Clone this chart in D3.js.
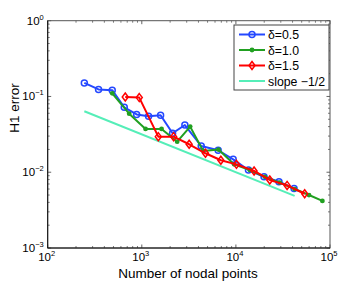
<!DOCTYPE html>
<html lang="en">
<head>
    <meta charset="UTF-8">
    <title>H1 error</title>
    <script src="https://cdnjs.cloudflare.com/ajax/libs/d3/7.8.5/d3.min.js"></script>
    <style>
    html, body {
        margin: 0;
        background: white;
    }
    text {
        font-family: "Liberation Sans", Arial, sans-serif;
        fill: #000;
    }
    </style>
</head>
<body>
    <div id="chart"></div>
    <script>
    // data
    var seriesNames = ['δ=0.5', 'δ=1.0', 'δ=1.5', 'slope −1/2'];

    var nodes05 = [245, 347, 485, 651, 881, 1180, 1584, 2124, 2868, 4280, 6480, 9350, 13600, 19900, 28700, 41500];
    var err05 = [0.151, 0.124, 0.121, 0.072, 0.058, 0.0547, 0.0565, 0.0327, 0.042, 0.0222, 0.0195, 0.0148, 0.0107, 0.0087, 0.0075, 0.0061];

    var nodes10 = [485, 734, 1096, 1622, 2377, 3266, 4490, 6530, 9570, 14060, 20300, 29200, 42100, 59800, 83000];
    var err10 = [0.110, 0.0593, 0.0373, 0.0373, 0.0253, 0.040, 0.0191, 0.0199, 0.0127, 0.0107, 0.0087, 0.0073, 0.0060, 0.0050, 0.00418];

    var nodes15 = [667, 940, 1497, 2178, 3185, 4750, 6920, 10140, 15600, 22900, 35000, 53800];
    var err15 = [0.0985, 0.0966, 0.0295, 0.0295, 0.0234, 0.0178, 0.0144, 0.0127, 0.0104, 0.0079, 0.0067, 0.0052];

    var slopeNodes = [245, 42100];
    var slopeErr = [0.0639, 0.00487];

    var xTickExp = [2, 3, 4, 5];
    var yTickExp = [0, -1, -2, -3];

    var width = 364;
    var height = 283;
    var margin = { top: 20.7, bottom: 35, left: 47.7, right: 34 };
    var w = width - margin.left - margin.right;
    var h = height - margin.top - margin.bottom;

    var svg = d3.select('#chart')
        .append('svg')
            .attr('width', width)
            .attr('height', height);

    var g = svg.append('g')
        .attr('transform', 'translate(' + margin.left + ',' + margin.top + ')');

    var x = d3.scaleLog().domain([1e2, 1e5]).range([0, w]);
    var y = d3.scaleLog().domain([1e-3, 1]).range([h, 0]);

    // minor + major ticks, inside, on all four sides
    var xMinor = [], yMinor = [];
    for (var e = 2; e < 5; e++) for (var k = 2; k < 10; k++) xMinor.push(k * Math.pow(10, e));
    for (var e2 = -3; e2 < 0; e2++) for (var k2 = 2; k2 < 10; k2++) yMinor.push(k2 * Math.pow(10, e2));

    var tickColor = '#222';
    xMinor.forEach(function(v) {
        g.append('line').attr('x1', x(v)).attr('x2', x(v)).attr('y1', h).attr('y2', h - 2).attr('stroke', tickColor).attr('stroke-width', 0.6);
        g.append('line').attr('x1', x(v)).attr('x2', x(v)).attr('y1', 0).attr('y2', 2).attr('stroke', tickColor).attr('stroke-width', 0.6);
    });
    yMinor.forEach(function(v) {
        g.append('line').attr('y1', y(v)).attr('y2', y(v)).attr('x1', 0).attr('x2', 2).attr('stroke', tickColor).attr('stroke-width', 0.6);
        g.append('line').attr('y1', y(v)).attr('y2', y(v)).attr('x1', w).attr('x2', w - 2).attr('stroke', tickColor).attr('stroke-width', 0.6);
    });
    xTickExp.forEach(function(p) {
        var v = Math.pow(10, p);
        g.append('line').attr('x1', x(v)).attr('x2', x(v)).attr('y1', h).attr('y2', h - 3.5).attr('stroke', tickColor).attr('stroke-width', 0.7);
        g.append('line').attr('x1', x(v)).attr('x2', x(v)).attr('y1', 0).attr('y2', 3.5).attr('stroke', tickColor).attr('stroke-width', 0.7);
        var t = g.append('text')
            .attr('x', x(v) - 1)
            .attr('y', h + 13.5)
            .attr('text-anchor', 'middle')
            .style('font-size', '11.5px');
        t.append('tspan').text('10');
        t.append('tspan').attr('dy', -5).style('font-size', '7.5px').text(p);
    });
    yTickExp.forEach(function(p) {
        var v = Math.pow(10, p);
        g.append('line').attr('y1', y(v)).attr('y2', y(v)).attr('x1', 0).attr('x2', 3.5).attr('stroke', tickColor).attr('stroke-width', 0.7);
        g.append('line').attr('y1', y(v)).attr('y2', y(v)).attr('x1', w).attr('x2', w - 3.5).attr('stroke', tickColor).attr('stroke-width', 0.7);
        var t = g.append('text')
            .attr('x', -4)
            .attr('y', y(v) + 4)
            .attr('text-anchor', 'end')
            .style('font-size', '11.5px');
        t.append('tspan').text('10');
        t.append('tspan').attr('dy', -5).style('font-size', '7.5px').text(p < 0 ? '\u2212' + (-p) : p);
    });

    // box
    g.append('rect')
        .attr('x', 0).attr('y', 0).attr('width', w).attr('height', h)
        .attr('fill', 'none')
        .attr('stroke', '#555')
        .attr('stroke-width', 1);
    g.append('line').attr('x1', 0).attr('x2', 0).attr('y1', 0).attr('y2', h).attr('stroke', '#111');
    g.append('line').attr('x1', 0).attr('x2', w).attr('y1', h).attr('y2', h).attr('stroke', '#111');

    var line = d3.line()
        .x(function(d) { return x(d[0]); })
        .y(function(d) { return y(d[1]); });

    var slopeColor = '#55eeb8';
    var blue = '#2448ff';
    var green = '#21a021';
    var red = '#ff0000';

    g.append('path')
        .datum(d3.zip(slopeNodes, slopeErr))
        .attr('fill', 'none')
        .attr('stroke', slopeColor)
        .attr('stroke-width', 2)
        .attr('d', line);

    var diamond = function(cx, cy, r) {
        return 'M' + cx + ',' + (cy - r) + 'L' + (cx + r * 0.75) + ',' + cy + 'L' + cx + ',' + (cy + r) + 'L' + (cx - r * 0.75) + ',' + cy + 'Z';
    };

    function drawSeries(nodes, errs, color, marker) {
        var data = d3.zip(nodes, errs);
        g.append('path')
            .datum(data)
            .attr('fill', 'none')
            .attr('stroke', color)
            .attr('stroke-width', 2)
            .attr('stroke-linejoin', 'round')
            .attr('d', line);
        data.forEach(function(d) {
            drawMarker(g, x(d[0]), y(d[1]), color, marker);
        });
    }

    function drawMarker(sel, cx, cy, color, marker) {
        if (marker === 'o') {
            sel.append('circle').attr('cx', cx).attr('cy', cy).attr('r', 3)
                .attr('fill', 'none').attr('stroke', color).attr('stroke-width', 1.5);
        } else if (marker === '.') {
            sel.append('circle').attr('cx', cx).attr('cy', cy).attr('r', 2.4)
                .attr('fill', color);
        } else if (marker === 'd') {
            sel.append('path').attr('d', diamond(cx, cy, 4))
                .attr('fill', 'none').attr('stroke', color).attr('stroke-width', 1.5);
        }
    }

    drawSeries(nodes05, err05, blue, 'o');
    drawSeries(nodes10, err10, green, '.');
    drawSeries(nodes15, err15, red, 'd');

    // legend
    var legend = svg.append('g').attr('transform', 'translate(234,25)');
    legend.append('rect')
        .attr('width', 95).attr('height', 65)
        .attr('fill', 'white')
        .attr('stroke', '#444')
        .attr('stroke-width', 1);
    var legColors = [blue, green, red, slopeColor];
    var legMarkers = ['o', '.', 'd', null];
    seriesNames.forEach(function(name, i) {
        var ly = 9.5 + i * 15.5;
        legend.append('line')
            .attr('x1', 5).attr('x2', 31)
            .attr('y1', ly).attr('y2', ly)
            .attr('stroke', legColors[i])
            .attr('stroke-width', 2);
        if (legMarkers[i]) drawMarker(legend, 18, ly, legColors[i], legMarkers[i]);
        legend.append('text')
            .attr('x', 34)
            .attr('y', ly + 4.5)
            .style('font-size', '12.3px')
            .text(name);
    });

    // axis titles
    svg.append('text')
        .attr('x', 188)
        .attr('y', 277.5)
        .attr('text-anchor', 'middle')
        .style('font-size', '13.5px')
        .text('Number of nodal points');

    svg.append('text')
        .attr('transform', 'translate(18.5,108) rotate(-90)')
        .attr('text-anchor', 'middle')
        .style('font-size', '13.5px')
        .text('H1 error');
    </script>
</body>
</html>
